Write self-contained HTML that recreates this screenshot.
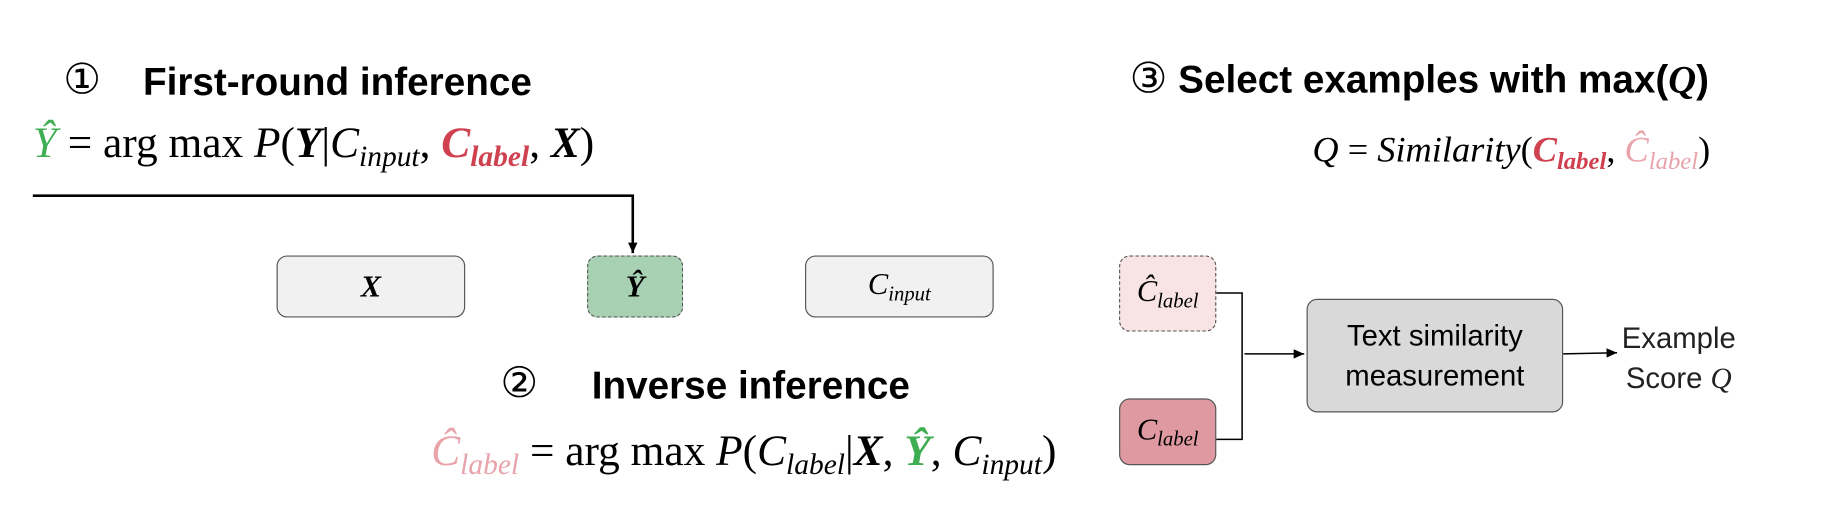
<!DOCTYPE html>
<html><head><meta charset="utf-8"><style>
html,body{margin:0;padding:0;background:#fff;width:1828px;height:510px;overflow:hidden}
#w{position:absolute;left:0;top:0;width:1560px;height:435px;transform:scale(1.1718);transform-origin:0 0}
.a{position:absolute;white-space:nowrap}
.t{font-family:"Liberation Sans",Arial,sans-serif;font-weight:bold;font-size:33px;color:#000}
.m{font-family:"Liberation Serif",serif;font-size:37px;color:#000}
.i{font-style:italic}
.b{font-weight:bold}
sub{font-size:0.68em;vertical-align:-0.3em;font-style:italic}
.g{color:#3fae52}.r{color:#d0414f}.p{color:#e8a3ab}
.box{position:absolute;box-sizing:border-box;border:1.3px solid #555;border-radius:9px;display:flex;align-items:center;justify-content:center;font-family:"Liberation Serif",serif;font-size:26px}
.circ{font-family:"DejaVu Sans",sans-serif;font-weight:normal;font-size:36px}
</style></head><body><div id="w">
<div class="a t" style="left:54px;top:48px"><span class="circ">①</span></div>
<div class="a t" style="left:122px;top:51px">First-round inference</div>
<div class="a m" style="left:28px;top:101px"><span class="g i">Ŷ</span> = arg max <span class="i">P</span>(<span class="i b">Y</span>|<span class="i">C</span><sub>input</sub>, <span class="r i b">C<sub>label</sub></span>, <span class="i b">X</span>)</div>

<svg class="a" style="left:0;top:0" width="1560" height="435">
<defs><marker id="ar" markerWidth="10" markerHeight="10" refX="9" refY="5" orient="auto" markerUnits="userSpaceOnUse"><path d="M0,1 L9,5 L0,9 z" fill="#000"/></marker></defs>
<polyline points="28,167 540,167 540,216" fill="none" stroke="#000" stroke-width="2.2" marker-end="url(#ar)"/>
<polyline points="1038,250 1060,250 1060,375 1038,375" fill="none" stroke="#000" stroke-width="1.3"/>
<line x1="1062" y1="302" x2="1113" y2="302" stroke="#000" stroke-width="1.3" marker-end="url(#ar)"/>
<line x1="1334" y1="302" x2="1380" y2="301" stroke="#000" stroke-width="1.3" marker-end="url(#ar)"/>
</svg>

<div class="box" style="left:236px;top:218px;width:161px;height:53px;background:#f1f1f1"><span class="i b">X</span></div>
<div class="box" style="left:501px;top:218px;width:82px;height:53px;background:#a8d0b2;border:1.3px dashed #555"><span class="i b">Ŷ</span></div>
<div class="box" style="left:687px;top:218px;width:161px;height:53px;background:#f1f1f1"><span class="i">C<sub>input</sub></span></div>

<div class="a t" style="left:427px;top:307px"><span class="circ">②</span></div>
<div class="a t" style="left:505px;top:310px">Inverse inference</div>
<div class="a m" style="left:368px;top:364px"><span class="p i">Ĉ<sub>label</sub></span> = arg max <span class="i">P</span>(<span class="i">C</span><sub>label</sub>|<span class="i b">X</span>, <span class="g i b">Ŷ</span>, <span class="i">C</span><sub>input</sub>)</div>

<div class="a t" style="left:964px;top:47px;font-size:33px"><span class="circ">③</span> Select examples with max(<span class="i" style="font-family:'Liberation Serif',serif">Q</span>)</div>
<div class="a m" style="left:1120px;top:110px;font-size:31px"><span class="i">Q</span> = <span class="i">Similarity</span>(<span class="r i b">C<sub>label</sub></span>, <span class="p i">Ĉ<sub>label</sub></span>)</div>

<div class="box" style="left:955px;top:218px;width:83px;height:65px;background:#f8e4e4;border:1.3px dashed #555"><span class="i">Ĉ<sub>label</sub></span></div>
<div class="box" style="left:955px;top:340px;width:83px;height:57px;background:#de9aa0"><span class="i">C<sub>label</sub></span></div>
<div class="box" style="left:1115px;top:255px;width:219px;height:97px;background:#d9d9d9;font-family:'Liberation Sans',sans-serif;font-size:25px;text-align:center;line-height:34px">Text similarity<br>measurement</div>
<div class="a" style="left:1384px;top:272px;font-family:'Liberation Sans',sans-serif;font-size:25px;text-align:center;line-height:34px;color:#222">Example<br>Score <span class="i" style="font-family:'Liberation Serif',serif">Q</span></div>
</div></body></html>
